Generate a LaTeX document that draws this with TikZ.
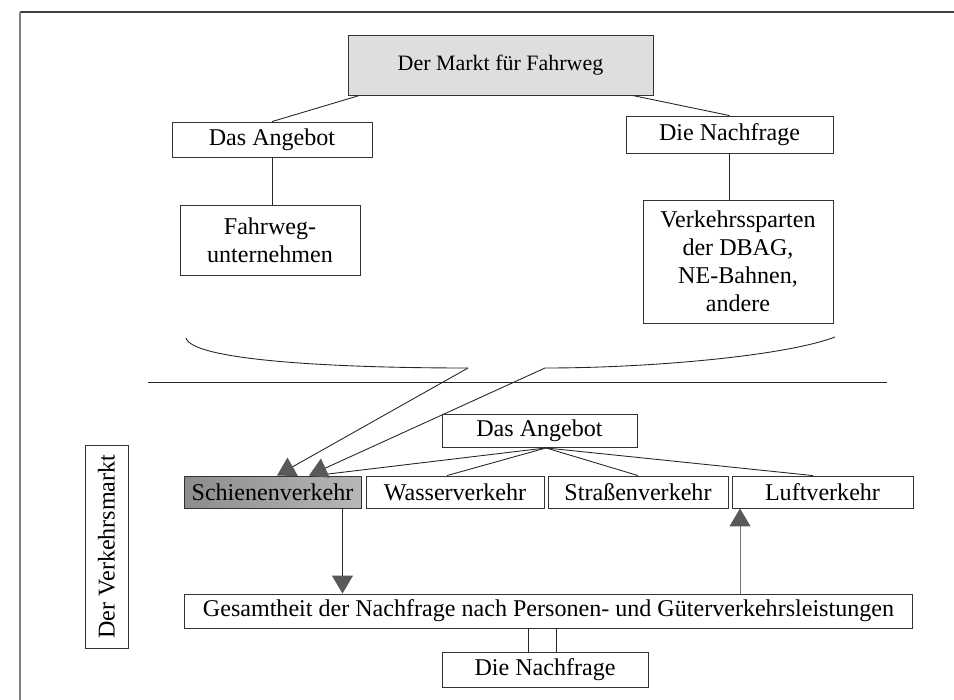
\documentclass[tikz,border=0pt]{standalone}
\usepackage{fontspec}
\setmainfont{Liberation Serif}
\usetikzlibrary{arrows.meta}
\begin{document}
\begin{tikzpicture}[x=0.02cm,y=-0.02cm,
  bx/.style={draw=black!80, line width=0.5pt, rectangle, inner sep=0pt, align=center, font=\fontsize{13.7}{16}\selectfont},
  ln/.style={draw=black!85, line width=0.5pt},
  tri/.style={ln, -{Triangle[length=0.36cm,width=0.42cm,fill=black!65,color=black!65]}}]
\useasboundingbox (0,0) rectangle (954,700);
% frame
\draw[black!75, line width=1.3pt] (20,12) -- (954,12);
\draw[black!50, line width=1.3pt] (20,12) -- (20,700);
% upper market
\node[bx, minimum width=6.1cm, minimum height=1.2cm, fill=black!13, font=\fontsize{12.5}{15}\selectfont] (head) at (500.5,65) {Der Markt für Fahrweg};
\node[bx, minimum width=4.0cm, minimum height=0.7cm] (ang1) at (272,139.5) {Das Angebot};
\node[bx, minimum width=4.14cm, minimum height=0.74cm] (nach1) at (729.5,134.5) {Die Nachfrage};
\node[bx, minimum width=3.6cm, minimum height=1.4cm] (fahr) at (270,240) {Fahrweg-\\unternehmen};
\node[bx, minimum width=3.8cm, minimum height=2.46cm] (verk) at (738,261.5) {Verkehrssparten\\der DBAG,\\NE-Bahnen,\\andere};
\draw[ln] ([xshift=0.24cm]head.south west) -- (ang1.north);
\draw[ln] ([xshift=-0.42cm]head.south east) -- (nach1.north);
\draw[ln] (ang1.south) -- (ang1.south |- fahr.north);
\draw[ln] (nach1.south) -- (nach1.south |- verk.north);
% curves
\coordinate (cl) at (186,338);
\coordinate (c1) at (468,368);
\coordinate (cr) at (835,337);
\coordinate (c2) at (545,368);
\draw[ln] (cl) .. controls (192,360) and (330,368) .. (c1);
\draw[ln] (c2) .. controls (650,368) and (785,356) .. (cr);
% separator
\coordinate (sl) at (148,382);
\coordinate (sr) at (887,382);
\draw[ln] (sl) -- (sr);
% lower market
\node[bx, minimum width=3.9cm, minimum height=0.66cm] (ang2) at (539.5,431) {Das Angebot};
\node[bx, minimum width=3.54cm, minimum height=0.64cm, left color=black!45, right color=black!28] (schiene) at (272.5,492) {Schienenverkehr};
\node[bx, minimum width=3.56cm, minimum height=0.64cm] (wasser) at (455,492) {Wasserverkehr};
\node[bx, minimum width=3.6cm, minimum height=0.64cm] (strasse) at (638,492) {Straßenverkehr};
\node[bx, minimum width=3.62cm, minimum height=0.64cm] (luft) at (822.5,492) {Luftverkehr};
\node[bx, minimum width=14.58cm, minimum height=0.68cm] (gesamt) at (548.5,611) {Gesamtheit der Nachfrage nach Personen- und Güterverkehrsleistungen};
\node[bx, minimum width=4.12cm, minimum height=0.7cm] (nach2) at (545,669.5) {Die Nachfrage};
\node[bx, rotate=90, minimum width=4.06cm, minimum height=0.86cm] (vm) at (106.5,546.5) {Der Verkehrsmarkt};
% fan
\draw[ln] ([xshift=0.13cm]ang2.south) -- ([xshift=0.85cm]schiene.north);
\draw[ln] ([xshift=0.13cm]ang2.south) -- ([xshift=-0.16cm]wasser.north);
\draw[ln] ([xshift=0.13cm]ang2.south) -- (strasse.north);
\draw[ln] ([xshift=0.13cm]ang2.south) -- ([xshift=-0.19cm]luft.north);
% arrows from upper market
\draw[tri] (c1) -- ([xshift=0.09cm]schiene.north);
\draw[tri] (c2) -- ([xshift=0.73cm]schiene.north);
% vertical arrows
\draw[tri] ([xshift=1.4cm]schiene.south) -- ([xshift=1.4cm]schiene.south |- gesamt.north);
\draw[tri, draw=black!55] ([xshift=-1.65cm]luft.south |- gesamt.north) -- ([xshift=-1.65cm]luft.south);
% double line
\draw[ln] ([xshift=-0.34cm]nach2.north |- gesamt.south) -- ([xshift=-0.34cm]nach2.north);
\draw[ln] ([xshift=0.22cm]nach2.north |- gesamt.south) -- ([xshift=0.22cm]nach2.north);
\end{tikzpicture}
\end{document}
